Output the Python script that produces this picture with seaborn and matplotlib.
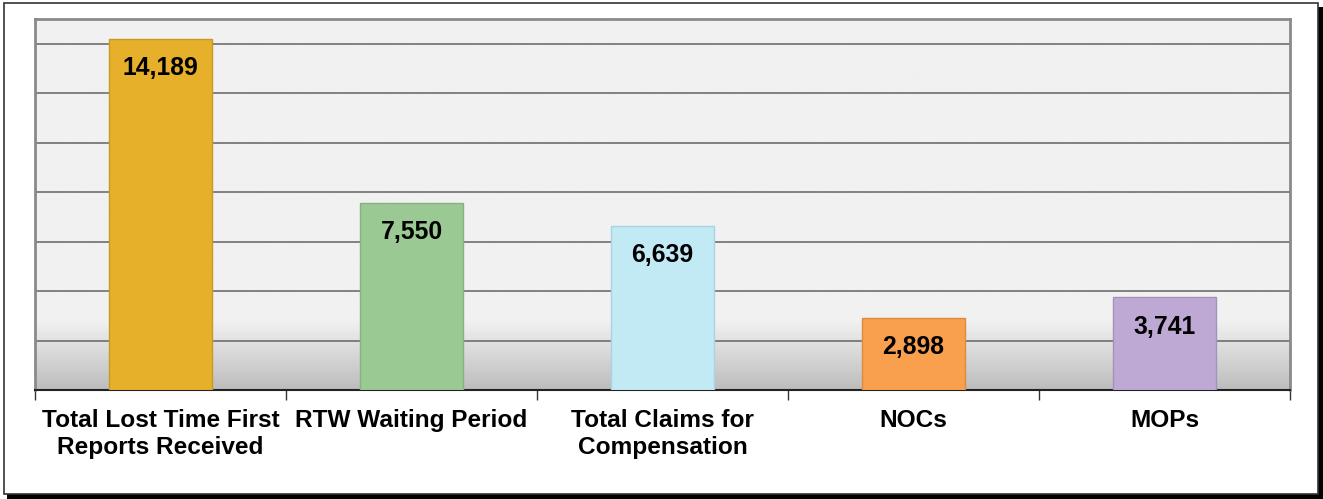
import numpy as np
import pandas as pd
import matplotlib
matplotlib.use("Agg")
import matplotlib.pyplot as plt
from matplotlib.patches import Rectangle
import seaborn as sns

categories = ["Total Lost Time First\nReports Received", "RTW Waiting Period",
              "Total Claims for\nCompensation", "NOCs", "MOPs"]
values = [14189, 7550, 6639, 2898, 3741]
colors = ["#E6B02A", "#9BC994", "#C2EAF4", "#F9A04E", "#BDA9D3"]
edges = ["#C89A20", "#86B27F", "#A9D3DE", "#E08A3C", "#A592BC"]

df = pd.DataFrame({"category": categories, "value": values})

sns.set_theme(style="white")
plt.rcParams["font.family"] = ["Liberation Sans", "DejaVu Sans"]

fig = plt.figure(figsize=(13.23, 4.99), dpi=100)
ax = fig.add_axes([35 / 1323, 1 - 390 / 499, 1255 / 1323, 371 / 499])

# outer frame with shadow
fig.patches.append(Rectangle((7 / 1323, 0.0), 1316 / 1323, 492 / 499, transform=fig.transFigure,
                             facecolor="black", edgecolor="none", zorder=-2))
fig.patches.append(Rectangle((4 / 1323, 5 / 499), 1314 / 1323, 491 / 499, transform=fig.transFigure,
                             facecolor="white", edgecolor="#333333", linewidth=1.2, zorder=-1))

# background gradient: flat light gray, darkening toward the base
grad = np.ones(200) * 0.945
n = 38
grad[-n:] = np.linspace(0.945, 0.74, n)
ax.imshow(grad.reshape(-1, 1), cmap="gray", vmin=0, vmax=1, aspect="auto",
          extent=[0, 1, 0, 1], transform=ax.transAxes, zorder=0, interpolation="bilinear")

sns.barplot(data=df, x="category", y="value", hue="category", palette=colors,
            saturation=1, width=0.41, legend=False, ax=ax, zorder=3)
for patch, ec in zip(ax.patches, edges):
    patch.set_edgecolor(ec)
    patch.set_linewidth(1.0)

for i, v in enumerate(values):
    ax.annotate(f"{v:,}", xy=(i, v), xytext=(0, -21), textcoords="offset points",
                ha="center", va="center", fontsize=17.8, fontweight="bold", color="black", zorder=4)

ax.set_ylim(0, 15000)
ax.set_xlim(-0.5, 4.5)
ax.set_yticks(np.arange(2000, 15000, 2000))
ax.set_yticklabels([])
ax.tick_params(axis="y", length=0)
ax.grid(axis="y", color="#6e6e6e", linewidth=1.2, zorder=1)
ax.set_axisbelow(True)

ax.set_xticks(range(len(categories)))
ax.set_xticklabels(categories, fontsize=17.6, fontweight="bold", color="black", linespacing=1.22)
ax.set_xticks(np.arange(-0.5, 5, 1), minor=True)
ax.tick_params(axis="x", which="major", length=0, pad=13.5)
ax.tick_params(axis="x", which="minor", length=7, width=1, color="#333333", direction="out", bottom=True)
ax.set_xlabel("")
ax.set_ylabel("")

for side in ["left", "top", "right"]:
    ax.spines[side].set_color("#8a8a8a")
    ax.spines[side].set_linewidth(2)
ax.spines["bottom"].set_color("#222222")
ax.spines["bottom"].set_linewidth(1.5)

fig.savefig("out.png", dpi=100)
